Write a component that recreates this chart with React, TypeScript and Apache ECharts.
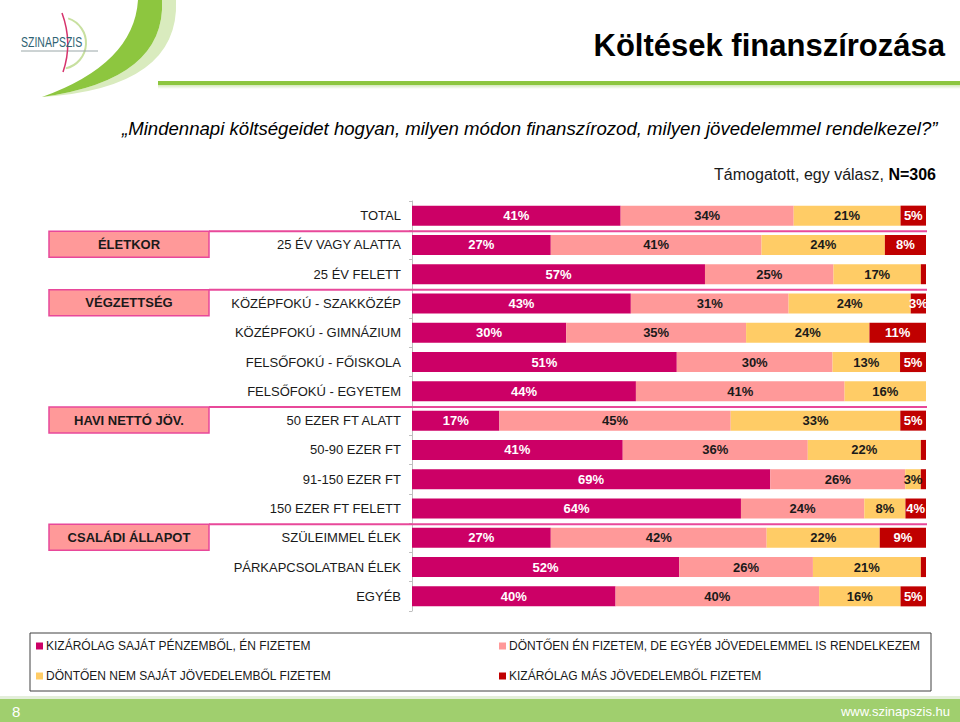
import React, { useEffect, useRef } from "react";
import * as echarts from "echarts";

const categories = [
  "TOTAL",
  "25 ÉV VAGY ALATTA",
  "25 ÉV FELETT",
  "KÖZÉPFOKÚ - SZAKKÖZÉP",
  "KÖZÉPFOKÚ - GIMNÁZIUM",
  "FELSŐFOKÚ - FŐISKOLA",
  "FELSŐFOKÚ - EGYETEM",
  "50 EZER FT ALATT",
  "50-90 EZER FT",
  "91-150 EZER FT",
  "150 EZER FT FELETT",
  "SZÜLEIMMEL ÉLEK",
  "PÁRKAPCSOLATBAN ÉLEK",
  "EGYÉB",
];

const seriesNames = [
  "KIZÁRÓLAG SAJÁT PÉNZEMBŐL, ÉN FIZETEM",
  "DÖNTŐEN ÉN FIZETEM, DE EGYÉB JÖVEDELEMMEL IS RENDELKEZEM",
  "DÖNTŐEN NEM SAJÁT JÖVEDELEMBŐL FIZETEM",
  "KIZÁRÓLAG MÁS JÖVEDELEMBŐL FIZETEM",
];

const sajatPenz = [41, 27, 57, 43, 30, 51, 44, 17, 41, 69, 64, 27, 52, 40];
const donttoenEn = [34, 41, 25, 31, 35, 30, 41, 45, 36, 26, 24, 42, 26, 40];
const nemSajat = [21, 24, 17, 24, 24, 13, 16, 33, 22, 3, 8, 22, 21, 16];
const masJov = [5, 8, 1, 3, 11, 5, 0, 5, 1, 1, 4, 9, 1, 5];

const groupNames = ["ÉLETKOR", "VÉGZETTSÉG", "HAVI NETTÓ JÖV.", "CSALÁDI ÁLLAPOT"];
const groupStart = [1, 3, 7, 11];

const colors = ["#CC0066", "#FF9999", "#FFCC66", "#C00000"];
const labelColors = ["#FFFFFF", "#1A1A1A", "#1A1A1A", "#FFFFFF"];

const FONT = "Liberation Sans, Arial, Helvetica, sans-serif";

try {
  echarts.graphic.registerShape(
    "swooshDark",
    echarts.graphic.extendPath("M138 0 L162 0 Q166 80 42 97 Q134 64 138 0 Z", {})
  );
  echarts.graphic.registerShape(
    "swooshLight",
    echarts.graphic.extendPath("M162 0 L176 0 Q180 88 42 97 Q166 80 162 0 Z", {})
  );
} catch (e) {}

export default function App() {
  const ref = useRef<HTMLDivElement>(null);

  useEffect(() => {
    if (!ref.current) return;
    const chart = echarts.init(ref.current, undefined, { renderer: "svg" });

    const GRID_TOP = 201;
    const GRID_BOTTOM = 611;
    const GRID_LEFT = 412;
    const GRID_RIGHT_X = 926;
    const band = (GRID_BOTTOM - GRID_TOP) / categories.length;

    const raws = [sajatPenz, donttoenEn, nemSajat, masJov];
    const sums = categories.map((_, i) => raws.reduce((s, arr) => s + arr[i], 0));

    const series = raws.map((arr, si) => ({
      name: seriesNames[si],
      type: "bar",
      stack: "total",
      barWidth: 20,
      itemStyle: { color: colors[si] },
      label: {
        show: true,
        position: "inside",
        color: labelColors[si],
        fontFamily: FONT,
        fontWeight: "bold",
        fontSize: 13,
        formatter: (p: any) => (p.data.raw > 1 ? p.data.raw + "%" : ""),
      },
      data: arr.map((v, i) => ({ value: (v / sums[i]) * 100, raw: v })),
    }));

    const groupGraphics: any[] = [];
    groupNames.forEach((name, gi) => {
      const y = GRID_TOP + groupStart[gi] * band + 1;
      groupGraphics.push({
        type: "line",
        shape: { x1: 209, y1: y, x2: GRID_RIGHT_X + 1, y2: y },
        style: { stroke: "#E8489A", lineWidth: 2 },
        z: 10,
      });
      groupGraphics.push({
        type: "rect",
        shape: { x: 49, y: y, width: 160, height: 26 },
        style: { fill: "#FF9999", stroke: "#E8489A", lineWidth: 1.5 },
        z: 10,
      });
      groupGraphics.push({
        type: "text",
        x: 129,
        y: y + 13,
        style: {
          text: name,
          fontFamily: FONT,
          fontWeight: "bold",
          fontSize: 13,
          fill: "#1A1A1A",
          align: "center",
          verticalAlign: "middle",
        },
        z: 11,
      });
    });

    const legendCommon = {
      top: 640,
      orient: "vertical",
      padding: 0,
      itemGap: 18,
      itemWidth: 7,
      itemHeight: 7,
      icon: "rect",
      selectedMode: false,
      textStyle: { fontFamily: FONT, fontSize: 12, color: "#1A1A1A", padding: [0, 0, 0, -2] },
    };

    chart.setOption({
      animation: false,
      backgroundColor: "#FFFFFF",
      grid: {
        left: GRID_LEFT,
        right: 960 - GRID_RIGHT_X,
        top: GRID_TOP,
        bottom: 722 - GRID_BOTTOM,
        containLabel: false,
      },
      xAxis: {
        type: "value",
        min: 0,
        max: 100,
        show: false,
      },
      yAxis: {
        type: "category",
        inverse: true,
        data: categories,
        axisLine: { show: true, lineStyle: { color: "#BFBFBF", width: 1 } },
        axisTick: { show: true, length: 3, lineStyle: { color: "#BFBFBF" } },
        axisLabel: {
          margin: 11,
          fontFamily: FONT,
          fontSize: 13,
          color: "#1A1A1A",
        },
      },
      legend: [
        { ...legendCommon, left: 36, data: [seriesNames[0], seriesNames[2]] },
        { ...legendCommon, left: 499, data: [seriesNames[1], seriesNames[3]] },
      ],
      series,
      graphic: [
        // logo swoosh
        { type: "swooshLight", x: 0, y: 0, style: { fill: "#D9EBBE" }, z: 1 },
        { type: "swooshDark", x: 0, y: 0, style: { fill: "#8DC63F" }, z: 2 },
        // green rule under title
        {
          type: "rect",
          shape: { x: 158, y: 81, width: 802, height: 4 },
          style: { fill: "#8DC63F" },
          z: 2,
        },
        {
          type: "rect",
          shape: { x: 158, y: 85, width: 802, height: 4 },
          style: {
            fill: new echarts.graphic.LinearGradient(0, 0, 0, 1, [
              { offset: 0, color: "#D4E8BA" },
              { offset: 1, color: "#FFFFFF" },
            ]),
          },
          z: 2,
        },
        // logo elements
        {
          type: "arc",
          shape: { cx: 60, cy: 43, r: 26, startAngle: -1.25, endAngle: 1.35 },
          style: { stroke: "#C8E0A0", lineWidth: 2, fill: "none" },
          z: 3,
        },
        {
          type: "line",
          shape: { x1: 21, y1: 51, x2: 98, y2: 51 },
          style: { stroke: "#9AA7A8", lineWidth: 1 },
          z: 3,
        },
        {
          type: "bezierCurve",
          shape: { x1: 62, y1: 13, x2: 63, y2: 72, cpx1: 73, cpy1: 43 },
          style: { stroke: "#D6336C", lineWidth: 1.5, fill: "none" },
          z: 4,
        },
        {
          type: "text",
          x: 21,
          y: 42,
          scaleX: 0.7,
          style: {
            text: "SZINAPSZIS",
            fontFamily: FONT,
            fontSize: 15,
            fill: "#2F6374",
            align: "left",
            verticalAlign: "middle",
          },
          z: 5,
        },
        // titles
        {
          type: "text",
          x: 945,
          y: 45,
          style: {
            text: "Költések finanszírozása",
            fontFamily: FONT,
            fontWeight: "bold",
            fontSize: 31,
            fill: "#000000",
            align: "right",
            verticalAlign: "middle",
          },
        },
        {
          type: "text",
          x: 122,
          y: 128,
          style: {
            text: "„Mindennapi költségeidet hogyan, milyen módon finanszírozod, milyen jövedelemmel rendelkezel?”",
            fontFamily: FONT,
            fontStyle: "italic",
            fontSize: 18.6,
            fill: "#000000",
            align: "left",
            verticalAlign: "middle",
          },
        },
        {
          type: "text",
          x: 936,
          y: 174,
          style: {
            text: "Támogatott, egy válasz, {b|N=306}",
            rich: {
              b: { fontFamily: FONT, fontWeight: "bold", fontSize: 16, fill: "#000000" },
            },
            fontFamily: FONT,
            fontSize: 16,
            fill: "#1A1A1A",
            align: "right",
            verticalAlign: "middle",
          },
        },
        ...groupGraphics,
        // legend box
        {
          type: "rect",
          shape: { x: 30, y: 633, width: 901, height: 58 },
          style: { fill: "none", stroke: "#404040", lineWidth: 1 },
        },
        // footer
        {
          type: "rect",
          shape: { x: 0, y: 696, width: 960, height: 3 },
          style: { fill: "#E3EEDA" },
        },
        {
          type: "rect",
          shape: { x: 0, y: 699, width: 960, height: 23 },
          style: { fill: "#A0CF6E" },
        },
        {
          type: "text",
          x: 12,
          y: 711,
          style: {
            text: "8",
            fontFamily: FONT,
            fontSize: 15,
            fill: "#FFFFFF",
            align: "left",
            verticalAlign: "middle",
          },
        },
        {
          type: "text",
          x: 950,
          y: 711,
          style: {
            text: "www.szinapszis.hu",
            fontFamily: FONT,
            fontSize: 13,
            fill: "#FFFFFF",
            align: "right",
            verticalAlign: "middle",
          },
        },
      ],
    });

    return () => chart.dispose();
  }, []);

  return (
    <div
      ref={ref}
      style={{ position: "fixed", left: 0, top: 0, width: 960, height: 722 }}
    />
  );
}
